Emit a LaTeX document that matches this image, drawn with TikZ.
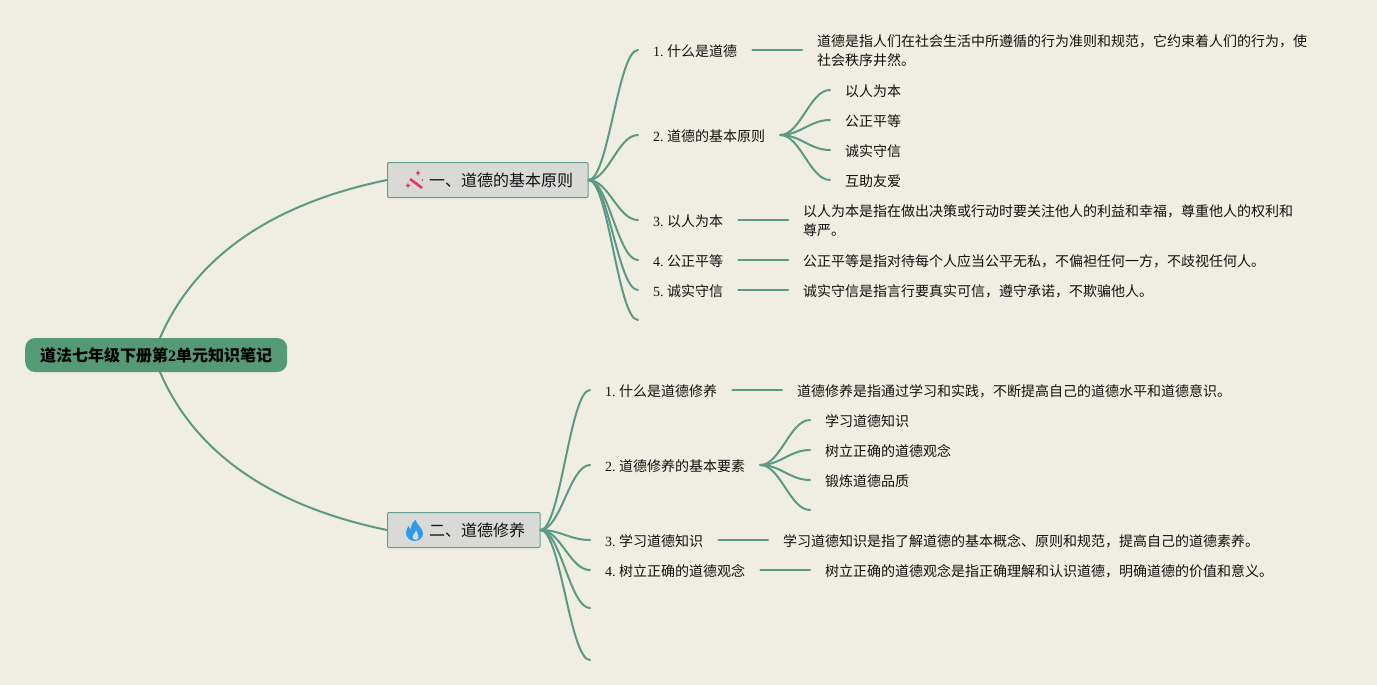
\documentclass[tikz,border=0pt]{standalone}
\usepackage{fontspec}
\setmainfont{Liberation Serif}
\newfontfamily\cjk{Noto Sans CJK SC}
\newfontfamily\lat{Liberation Serif}
\definecolor{bgc}{HTML}{F0EDE3}
\definecolor{linec}{HTML}{5C9A87}
\definecolor{rootc}{HTML}{549A77}
\definecolor{secc}{HTML}{D9D9D7}
\definecolor{secb}{HTML}{65A08E}
\definecolor{inkc}{HTML}{111111}
\definecolor{wandc}{HTML}{E8336D}
\definecolor{flamec}{HTML}{2F9BE8}
\tikzset{
  conn/.style={draw=linec,line width=2pt,line cap=round},
  leaf/.style={anchor=west,inner xsep=15pt,inner ysep=2pt,text=inkc,font=\cjk\fontsize{14}{19}\selectfont,align=left,execute at begin node={\rule{0pt}{15pt}}},
  sect/.style={anchor=west,draw=secb,fill=secc,line width=1pt,rounded corners=1pt,minimum height=35pt,inner ysep=0pt,text=inkc,font=\cjk\fontsize{16}{20}\selectfont},
  rootn/.style={anchor=west,fill=rootc,rounded corners=10pt,minimum height=34pt,minimum width=262pt,inner sep=0pt,text=black,font=\cjk\bfseries\fontsize{16}{20}\selectfont},
}
\newcommand{\fan}[2]{\draw[conn] (#1) .. controls +(20,0) and +(-20,0) .. (#2);}
\newcommand{\num}[1]{{\lat #1.}\hspace{3.4pt}}
\begin{document}
\begin{tikzpicture}[x=1pt,y=-1pt]
\useasboundingbox[fill=bgc] (0,0) rectangle (1377,685);
% main curves
\coordinate (rt) at (160,338);
\coordinate (rb) at (160,372);
\node[sect,minimum width=200.5pt] (s1) at (387,180) {\hspace{26.5pt}一、道德的基本原则};
\node[sect,minimum width=152.5pt] (s2) at (387,530) {\hspace{26.5pt}二、道德修养};
\draw[conn] (rt) .. controls (200,245) and (290,200) .. (s1.west);
\draw[conn] (rb) .. controls (200,465) and (290,510) .. (s2.west);
\node[rootn] (root) at (25,355) {\rule{0pt}{14.5pt}道法七年级下册第{\lat 2}单元知识笔记};
% icons
\begin{scope}[shift={(415,180)}]
  \draw[wandc,line width=2.6pt] (-5,-1) -- (7,8);
  \fill[wandc] (3,-10) -- (3.7,-8) -- (5.5,-7) -- (3.7,-6) -- (3,-4) -- (2.3,-6) -- (0.5,-7) -- (2.3,-8) -- cycle;
  \fill[wandc] (-7,2.5) -- (-6.3,4.5) -- (-4.5,5.5) -- (-6.3,6.5) -- (-7,8.5) -- (-7.7,6.5) -- (-9.5,5.5) -- (-7.7,4.5) -- cycle;
  \fill[wandc] (7.5,0) circle (0.9);
\end{scope}
\begin{scope}[shift={(414.5,531)}]
  \fill[flamec] (1,-11) .. controls (2,-7) and (8,-3) .. (8.5,2) .. controls (9,7) and (4,10) .. (0,10)
    .. controls (-5,10) and (-8.5,6) .. (-8.5,2) .. controls (-8.5,-1) and (-7,-3) .. (-6,-5)
    .. controls (-5,-3) and (-4.5,-2) .. (-3.5,-2) .. controls (-3.5,-5) and (-2,-9) .. (1,-11) -- cycle;
  \fill[secc] (1.5,-1) .. controls (2,2) and (5,4) .. (4,7) .. controls (3.5,8.5) and (1,9) .. (-0.5,8.5)
    .. controls (-2,8) and (-2.5,5) .. (-1,3.5) .. controls (0,2.5) and (1.5,1) .. (1.5,-1) -- cycle;
\end{scope}
% section 1
\node[leaf] (a1) at (638,50) {\num{1}什么是道德};
\node[leaf] (a2) at (638,135) {\num{2}道德的基本原则};
\node[leaf] (a3) at (638,220) {\num{3}以人为本};
\node[leaf] (a4) at (638,260) {\num{4}公正平等};
\node[leaf] (a5) at (638,290) {\num{5}诚实守信};
\coordinate (a6) at (638,320);
\node[leaf] (d1) at (802,51) {道德是指人们在社会生活中所遵循的行为准则和规范，它约束着人们的行为，使\\社会秩序井然。};
\node[leaf] (d3) at (788,221) {以人为本是指在做出决策或行动时要关注他人的利益和幸福，尊重他人的权利和\\尊严。};
\node[leaf] (d4) at (788,260) {公正平等是指对待每个人应当公平无私，不偏袒任何一方，不歧视任何人。};
\node[leaf] (d5) at (788,290) {诚实守信是指言行要真实可信，遵守承诺，不欺骗他人。};
\node[leaf] (p1) at (830,90) {以人为本};
\node[leaf] (p2) at (830,120) {公正平等};
\node[leaf] (p3) at (830,150) {诚实守信};
\node[leaf] (p4) at (830,180) {互助友爱};
\foreach \t in {a1,a2,a3,a4,a5}{\fan{s1.east}{\t.west}}
\fan{s1.east}{a6}
\foreach \t in {p1,p2,p3,p4}{\fan{a2.east}{\t.west}}
\draw[conn] (a1.east) -- (a1.east -| d1.west);
\draw[conn] (a3.east) -- (a3.east -| d3.west);
\draw[conn] (a4.east) -- (d4.west);
\draw[conn] (a5.east) -- (d5.west);
% section 2
\node[leaf] (b1) at (590,390) {\num{1}什么是道德修养};
\node[leaf] (b2) at (590,465) {\num{2}道德修养的基本要素};
\node[leaf] (b3) at (590,540) {\num{3}学习道德知识};
\node[leaf] (b4) at (590,570) {\num{4}树立正确的道德观念};
\coordinate (b5) at (590,608);
\coordinate (b6) at (590,660);
\node[leaf] (e1) at (782,390) {道德修养是指通过学习和实践，不断提高自己的道德水平和道德意识。};
\node[leaf] (e3) at (768,540) {学习道德知识是指了解道德的基本概念、原则和规范，提高自己的道德素养。};
\node[leaf] (e4) at (810,570) {树立正确的道德观念是指正确理解和认识道德，明确道德的价值和意义。};
\node[leaf] (q1) at (810,420) {学习道德知识};
\node[leaf] (q2) at (810,450) {树立正确的道德观念};
\node[leaf] (q3) at (810,480) {锻炼道德品质};
\coordinate (q4) at (810,510);
\foreach \t in {b1,b2,b3,b4}{\fan{s2.east}{\t.west}}
\fan{s2.east}{b5}
\fan{s2.east}{b6}
\foreach \t in {q1,q2,q3}{\fan{b2.east}{\t.west}}
\fan{b2.east}{q4}
\draw[conn] (b1.east) -- (e1.west);
\draw[conn] (b3.east) -- (e3.west);
\draw[conn] (b4.east) -- (e4.west);
\end{tikzpicture}
\end{document}
